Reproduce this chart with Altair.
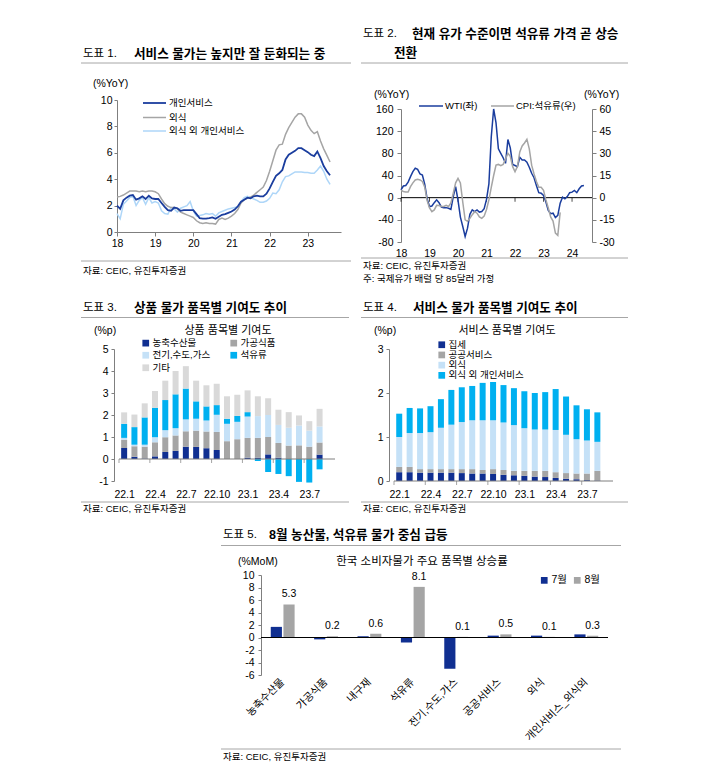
import json
import altair as alt
import pandas as pd

FONT = "Liberation Sans, Noto Sans CJK KR"
BLUE = "#1a3d9e"
NAVY = "#102f91"
GRAY = "#a5a5a5"
LGRAY = "#d9d9d9"
LBLUE = "#c5e1f7"
LINE_LBLUE = "#aed6f8"
CYAN = "#00b0f0"
RULE = "#a6a6a6"
AX = "#7f7f7f"
TITLE_SIZE = 12.6

# ---------------- data ----------------
# Panel 1: monthly YoY, 2018.1 - 2023.8
p1_series = ["개인서비스", "외식", "외식 외 개인서비스"]
p1_personal = [2.0, 1.75, 2.4, 2.6, 2.75, 2.8, 2.45, 2.55, 2.7, 2.5, 2.75, 2.55,
               2.5, 2.5, 2.2, 1.9, 1.65, 1.6, 1.85, 1.8, 1.6, 1.65, 1.65, 1.65,
               1.65, 1.35, 1.05, 1.02, 1.02, 1.05, 1.1, 1.0, 1.15, 1.3, 1.35, 1.45,
               1.55, 1.7, 1.95, 2.3, 2.45, 2.6, 2.55, 2.7, 2.75, 2.7, 2.7, 2.9,
               3.3, 3.8, 4.25, 4.45, 4.7, 5.5, 5.85, 6.0, 6.15, 6.35, 6.35, 6.2,
               6.05, 5.85, 5.75, 6.1, 5.6, 5.0, 4.6, 4.3]
p1_dining = [2.65, 2.7, 2.8, 2.95, 3.1, 3.1, 3.1, 3.05, 3.1, 3.05, 3.1, 3.1,
             3.05, 2.9, 2.5, 2.15, 1.95, 1.85, 1.85, 1.75, 1.5, 1.4, 1.3, 1.2,
             1.1, 0.85, 0.7, 0.65, 0.7, 0.65, 0.65, 0.6, 0.95, 1.05, 0.95, 1.05,
             1.2, 1.4, 1.7, 2.2, 2.45, 2.55, 2.65, 2.8, 3.0, 3.2, 3.4, 3.9,
             4.6, 5.4, 6.2, 6.6, 6.65, 7.4, 7.9, 8.3, 8.7, 8.95, 8.95, 8.7,
             8.1, 7.7, 7.45, 7.6, 6.9, 6.3, 5.8, 5.3]
p1_other = [1.4, 1.0, 2.1, 2.35, 2.6, 2.7, 2.0, 2.4, 2.6, 2.1, 2.6, 2.2,
            2.3, 2.2, 1.6, 1.4, 1.35, 1.85, 1.75, 1.5, 1.8, 1.9, 2.0, 2.3,
            1.6, 1.2, 1.25, 1.3, 1.4, 1.35, 1.4, 1.2, 1.45, 1.55, 1.65, 1.75,
            1.8, 1.85, 1.9, 2.3, 2.6, 2.7, 2.6, 2.5, 2.4, 2.25, 2.25, 2.35,
            2.55, 2.95, 2.9, 3.2, 3.8, 4.2, 4.25, 4.4, 4.55, 4.55, 4.55, 4.5,
            4.5, 4.45, 4.45, 4.7, 5.0, 4.6, 4.0, 3.6]
p1_years = [2018, 2019, 2020, 2021, 2022, 2023]

# Panel 2: WTI YoY (left) 2018.1-2024.6, CPI petroleum YoY (right) 2018.1-2023.8
p2_series = ["WTI(좌)", "CPI:석유류(우)"]
p2_wti = [14, 21, 22, 28, 38, 47, 53, 51, 43, 41, 24, -2,
          -16, -15, -9, -4, -9, -17, -18, -18, -19, -21, 2, 20,
          -5, -35, -52, -70, -55, -30, -22, -25, -22, -26, -25, -20,
          -3, 25, 110, 240, 135, 88, 80, 72, 62, 105, 90, 60,
          58, 56, 73, 68, 68, 64, 55, 44, 36, 22, 9, 8,
          4, -8, -23, -29, -28, -36, -32, -10, 1, -2, 2, 9,
          10, 13, 9, 16, 21, 22]
p2_cpi = [5, 4.2, 3.8, 3.8, 7.5, 10, 12, 12.5, 12, 11, 7, -2,
          -7, -9.5, -8.3, -5.2, -5.3, -6, -6, -5.2, -6, -3.5, 3, 10,
          13, 10, -3, -15, -16, -14, -11.5, -9.5, -10.5, -13, -14, -12.5,
          -8, -1.5, 7, 15, 22, 22.5, 21.6, 22.5, 26, 30, 28, 21,
          17.6, 21, 31, 35, 37, 39.5, 33, 22, 16, 11, 7, 7,
          5, -1.5, -7, -13, -15.8, -24, -25.5, -10]
p2_years = [2018, 2019, 2020, 2021, 2022, 2023, 2024]

# Panel 3: goods contributions (%p)
p3_months = ["22.1", "22.2", "22.3", "22.4", "22.5", "22.6", "22.7", "22.8", "22.9", "22.10",
             "22.11", "22.12", "23.1", "23.2", "23.3", "23.4", "23.5", "23.6", "23.7", "23.8"]
p3_names = ["농축수산물", "가공식품", "전기,수도,가스", "석유류", "기타"]
p3_agri = [0.5, 0.1, 0.02, 0.12, 0.32, 0.37, 0.56, 0.55, 0.49, 0.41,
           0.0, 0.0, 0.06, 0.06, 0.21, 0.06, 0.0, 0.0, 0.0, 0.2]
p3_proc = [0.37, 0.48, 0.54, 0.64, 0.67, 0.7, 0.7, 0.74, 0.76, 0.82,
           0.81, 0.9, 0.9, 0.9, 0.79, 0.67, 0.61, 0.62, 0.56, 0.55]
p3_elec = [0.09, 0.07, 0.09, 0.23, 0.32, 0.33, 0.54, 0.54, 0.5, 0.78,
           0.79, 0.79, 0.97, 0.99, 1.0, 0.82, 0.81, 0.9, 0.73, 0.73]
p3_oil = [0.64, 0.8, 1.24, 1.34, 1.37, 1.54, 1.4, 0.79, 0.64, 0.44,
          0.23, 0.27, 0.2, -0.09, -0.59, -0.68, -0.78, -1.04, -1.07, -0.47]
p3_etc = [0.52, 0.57, 0.64, 0.76, 0.88, 1.06, 1.02, 0.94, 0.96, 0.97,
          1.02, 0.96, 0.99, 0.9, 0.76, 0.69, 0.71, 0.46, 0.43, 0.8]
p3_label_idx = [0, 3, 6, 9, 12, 15, 18]

# Panel 4: services contributions (%p)
p4_names = ["집세", "공공서비스", "외식", "외식 외 개인서비스"]
p4_rent = [0.2, 0.2, 0.19, 0.19, 0.19, 0.19, 0.18, 0.17, 0.17, 0.16,
           0.14, 0.13, 0.12, 0.1, 0.09, 0.07, 0.05, 0.04, 0.02, 0.01]
p4_public = [0.12, 0.12, 0.08, 0.08, 0.08, 0.08, 0.09, 0.1, 0.08, 0.11,
             0.11, 0.1, 0.11, 0.13, 0.14, 0.13, 0.13, 0.13, 0.15, 0.22]
p4_dining = [0.68, 0.77, 0.82, 0.84, 0.94, 1.01, 1.07, 1.11, 1.13, 1.11,
             1.08, 1.04, 0.97, 0.94, 0.94, 0.96, 0.87, 0.78, 0.75, 0.66]
p4_personal = [0.53, 0.57, 0.56, 0.59, 0.65, 0.79, 0.79, 0.78, 0.85, 0.87,
               0.85, 0.84, 0.84, 0.83, 0.85, 0.93, 0.87, 0.77, 0.71, 0.67]

# Panel 5: MoM by item
p5_cats = ["농축수산물", "가공식품", "내구재", "석유류", "전기,수도,가스", "공공서비스", "외식", "개인서비스_외식외"]
p5_months = ["7월", "8월"]
p5_jul = [1.7, -0.3, 0.2, -0.8, -5.0, 0.3, 0.3, 0.5]
p5_aug = [5.3, 0.2, 0.6, 8.1, 0.1, 0.5, 0.1, 0.3]

SOURCE = "자료: CEIC, 유진투자증권"

# ---------------- helpers ----------------
ONE = alt.Data(values=[{"k": 0}])
PLAIN = "'' + datum.value"   # ASCII hyphen for negative tick labels


def T(o, x, y, s, size=10.5, weight="normal", align="left", color="#000000"):
    return alt.Chart(ONE).mark_text(align=align, baseline="middle", font=FONT, fontSize=size,
                                    fontWeight=weight, color=color).encode(
        x=alt.value(x - o[0]), y=alt.value(y - o[1]), text=alt.value(s))


def R(o, x1, x2, y, color=RULE, width=1.0):
    return alt.Chart(ONE).mark_rule(color=color, strokeWidth=width).encode(
        x=alt.value(x1 - o[0]), x2=alt.value(x2 - o[0]), y=alt.value(y - o[1]))


def frame(o, x2, y2):
    # invisible rules fixing the panel's box: origin o is the panel's top-left corner
    x1, y1 = o
    return [R(o, x1 + 0.5, x2 - 0.5, y1 + 0.5, color="#ffffff"),
            R(o, x1 + 0.5, x2 - 0.5, y2 - 0.5, color="#ffffff")]


def yaxis(values, orient="left", pad=3, tick=3, offset=0):
    return alt.Axis(values=values, orient=orient, title=None, tickSize=tick, labelPadding=pad,
                    domainColor=AX, tickColor=AX, labelFontSize=10.5, labelOverlap=False, offset=offset,
                    labelExpr=PLAIN)


# Each panel's view starts at the top-left of its box; the plot area sits inside it through
# the scale ranges, so the concat layout has nothing to align.

# ---------------- Panel 1 ----------------
O1 = (80, 20)
P1 = (116, 100, 340, 232)           # plot left, top, right, bottom (page px)
W1, H1 = P1[2] - O1[0], P1[3] - O1[1]
n1 = len(p1_personal)
p1_t = [2018 + i / 12 for i in range(n1)]
x1 = alt.X("t:Q", title=None,
           scale=alt.Scale(domain=[2018, 2023.87], range=[P1[0] - O1[0], W1], nice=False, zero=False),
           axis=alt.Axis(values=p1_years, labelExpr="format(datum.value - 2000, 'd')", title=None,
                         tickSize=4, labelPadding=2, domainColor=AX, tickColor=AX, labelFlush=False,
                         labelOverlap=False))
y1 = alt.Y("v:Q", title=None,
           scale=alt.Scale(domain=[0, 10], range=[H1, P1[1] - O1[1]], nice=False),
           axis=yaxis([0, 2, 4, 6, 8, 10], pad=2, tick=3, offset=-(P1[0] - O1[0])))

p1_layers = []
for vals, col, sw in [(p1_other, LINE_LBLUE, 1.5), (p1_dining, GRAY, 1.5), (p1_personal, BLUE, 1.8)]:
    df = pd.DataFrame({"t": p1_t, "v": vals})
    p1_layers.append(alt.Chart(df).mark_line(color=col, strokeWidth=sw).encode(x=x1, y=y1))

p1_deco = frame(O1, 355, 285) + [
    T(O1, 82, 54, "도표 1.", size=11.5),
    T(O1, 133, 54, "서비스 물가는 높지만 잘 둔화되는 중", size=TITLE_SIZE, weight="bold"),
    R(O1, 80, 350, 63),
    T(O1, 92, 84, "(%YoY)", size=10.5),
    R(O1, 142, 165, 103, color=BLUE, width=1.8), T(O1, 168, 103, p1_series[0], size=9.5),
    R(O1, 142, 165, 117.5, color=GRAY, width=1.5), T(O1, 168, 117.5, p1_series[1], size=9.5),
    R(O1, 142, 165, 131, color=LINE_LBLUE, width=1.5), T(O1, 168, 131, p1_series[2], size=9.5),
    R(O1, 80, 350, 261),
    T(O1, 82, 271, SOURCE, size=9.5),
]
p1 = alt.layer(*p1_layers, *p1_deco).properties(width=W1, height=H1)

# ---------------- Panel 2 ----------------
O2 = (355, 20)
P2 = (400, 109, 591, 242)
W2, H2 = P2[2] - O2[0], P2[3] - O2[1]
wti_df = pd.DataFrame({"t": [2018 + i / 12 for i in range(len(p2_wti))], "v": p2_wti})
cpi_df = pd.DataFrame({"t": [2018 + i / 12 for i in range(len(p2_cpi))], "v": p2_cpi})
x2 = alt.X("t:Q", title=None,
           scale=alt.Scale(domain=[2018, 2024.7], range=[P2[0] - O2[0], W2], nice=False, zero=False),
           axis=alt.Axis(values=p2_years, labelExpr="format(datum.value - 2000, 'd')", title=None,
                         domain=False, ticks=False, labelPadding=6, labelFlush=False, labelOverlap=False))
y2l = alt.Y("v:Q", title=None,
            scale=alt.Scale(domain=[-80, 160], range=[H2, P2[1] - O2[1]], nice=False, clamp=True),
            axis=yaxis([-80, -40, 0, 40, 80, 120, 160], pad=4, tick=4, offset=-(P2[0] - O2[0])))
y2r = alt.Y("v:Q", title=None,
            scale=alt.Scale(domain=[-30, 60], range=[H2, P2[1] - O2[1]], nice=False),
            axis=yaxis([-30, -15, 0, 15, 30, 45, 60], orient="right", pad=3, tick=4))

zero2_df = pd.DataFrame({"t": [2018], "t2": [2024.7], "v": [0]})
ticks2_df = pd.DataFrame({"t": p2_years, "v": [0] * len(p2_years)})
wti_line = alt.Chart(wti_df).mark_line(color=BLUE, strokeWidth=1.5).encode(x=x2, y=y2l)
zero2 = alt.Chart(zero2_df).mark_rule(color="#000000", strokeWidth=1).encode(x=x2, x2="t2:Q", y=y2l)
ticks2 = alt.Chart(ticks2_df).mark_tick(orient="vertical", size=4, yOffset=2, thickness=1,
                                        color="#000000").encode(x=x2, y=y2l)
left2 = alt.layer(zero2, ticks2, wti_line)
cpi_line = alt.Chart(cpi_df).mark_line(color=GRAY, strokeWidth=1.5).encode(x=x2, y=y2r)

p2_deco = frame(O2, 650, 285) + [
    T(O2, 362, 34, "도표 2.", size=11.5),
    T(O2, 411, 34, "현재 유가 수준이면 석유류 가격 곧 상승", size=TITLE_SIZE, weight="bold"),
    T(O2, 393, 53, "전환", size=TITLE_SIZE, weight="bold"),
    R(O2, 360, 627, 63),
    T(O2, 373, 95, "(%YoY)", size=10.5),
    T(O2, 583, 95, "(%YoY)", size=10.5),
    R(O2, 418, 442, 106, color=BLUE, width=1.5), T(O2, 444, 106, p2_series[0], size=9.5),
    R(O2, 490, 513, 106, color=GRAY, width=1.5), T(O2, 515, 106, p2_series[1], size=9.5),
    R(O2, 360, 627, 258),
    T(O2, 362, 266, SOURCE, size=9.5),
    T(O2, 362, 279, "주: 국제유가 배럴 당 85달러 가정", size=9.5),
]
p2 = alt.layer(left2, cpi_line).resolve_scale(y="independent")
p2 = alt.layer(p2, *p2_deco).properties(width=W2, height=H2)


# ---------------- stacked bar helper ----------------
def stacked(o, p, names, series, colors, ydom, yvals, legend):
    w, h = p[2] - o[0], p[3] - o[1]
    rows = []
    for k, (nm, vals) in enumerate(zip(names, series)):
        for i, v in enumerate(vals):
            rows.append({"idx": i, "comp": nm, "v": v, "ord": k})
    df = pd.DataFrame(rows)
    xs = alt.Scale(domain=[-0.5, 20.5], range=[p[0] - o[0], w], nice=False, zero=False)
    xa = alt.Axis(values=p3_label_idx, labelExpr=json.dumps(p3_months, ensure_ascii=False) + "[datum.value]",
                  title=None, domain=False, ticks=False, labelPadding=8, labelFlush=False, labelOverlap=False)
    ys = alt.Scale(domain=ydom, range=[h, p[1] - o[1]], nice=False)
    ya = yaxis(yvals, pad=3, tick=3, offset=-(p[0] - o[0]))
    xq = alt.X("idx:Q", title=None, scale=xs, axis=xa)
    ybar = alt.Y("v:Q", title=None, stack="zero", scale=ys, axis=ya)
    yplain = alt.Y("v:Q", title=None, scale=ys, axis=ya)
    bars = alt.Chart(df).mark_bar(size=6).encode(
        x=xq, y=ybar,
        color=alt.Color("comp:N", scale=alt.Scale(domain=names, range=colors), legend=legend),
        order=alt.Order("ord:Q", sort="ascending"))
    zdf = pd.DataFrame({"idx": [-0.5], "idx2": [20.5], "v": [0]})
    tdf = pd.DataFrame({"idx": [-0.5 + 3 * k for k in range(7)], "v": [0] * 7})
    zero = alt.Chart(zdf).mark_rule(color=AX, strokeWidth=1).encode(x=xq, x2="idx2:Q", y=yplain)
    tks = alt.Chart(tdf).mark_tick(orient="vertical", size=4, yOffset=2, thickness=1, color=AX).encode(
        x=xq, y=yplain)
    return [bars, zero, tks], w, h


# ---------------- Panel 3 ----------------
O3 = (80, 285)
P3 = (113, 349, 339, 481)
leg3 = alt.Legend(orient="none", legendX=60, legendY=53, columns=2, direction="horizontal",
                  symbolType="square", symbolSize=45, symbolStrokeWidth=0, labelFontSize=9.5,
                  labelFont=FONT, title=None, rowPadding=1.5, columnPadding=18, labelOffset=2, padding=0)
p3_layers, W3, H3 = stacked(O3, P3, p3_names, [p3_agri, p3_proc, p3_elec, p3_oil, p3_etc],
                            [NAVY, GRAY, LBLUE, CYAN, LGRAY], [-1, 5], [-1, 0, 1, 2, 3, 4, 5], leg3)
p3_deco = frame(O3, 355, 515) + [
    T(O3, 82, 308, "도표 3.", size=11.5),
    T(O3, 133, 308, "상품 물가 품목별 기여도 추이", size=TITLE_SIZE, weight="bold"),
    R(O3, 80, 348, 317.5),
    T(O3, 93, 331, "(%p)", size=10.5),
    T(O3, 227, 331, "상품 품목별 기여도", size=11, align="center"),
    R(O3, 80, 348, 502),
    T(O3, 82, 509, SOURCE, size=9.5),
]
p3 = alt.layer(*p3_layers, *p3_deco).properties(width=W3, height=H3)

# ---------------- Panel 4 ----------------
O4 = (355, 285)
P4 = (388, 349, 617, 481)
leg4 = alt.Legend(orient="none", legendX=81, legendY=55, columns=1, symbolType="square", symbolSize=45,
                  symbolStrokeWidth=0, labelFontSize=9.5, labelFont=FONT, title=None, rowPadding=-0.8,
                  labelOffset=2, padding=0)
p4_layers, W4, H4 = stacked(O4, P4, p4_names, [p4_rent, p4_public, p4_dining, p4_personal],
                            [NAVY, GRAY, LBLUE, CYAN], [0, 3], [0, 1, 2, 3], leg4)
p4_deco = frame(O4, 650, 515) + [
    T(O4, 362, 308, "도표 4.", size=11.5),
    T(O4, 412, 308, "서비스 물가 품목별 기여도 추이", size=TITLE_SIZE, weight="bold"),
    R(O4, 360, 627, 317.5),
    T(O4, 373, 331, "(%p)", size=10.5),
    T(O4, 506, 331, "서비스 품목별 기여도", size=11, align="center"),
    R(O4, 360, 627, 502),
    T(O4, 362, 509, SOURCE, size=9.5),
]
p4 = alt.layer(*p4_layers, *p4_deco).properties(width=W4, height=H4)

# ---------------- Panel 5 ----------------
O5 = (80, 515)
P5 = (260, 575, 607, 675)
W5, H5 = P5[2] - O5[0], P5[3] - O5[1]
p5_df = pd.DataFrame({"cat": p5_cats * 2,
                      "mon": [p5_months[0]] * len(p5_cats) + [p5_months[1]] * len(p5_cats),
                      "v": p5_jul + p5_aug})
x5 = alt.X("cat:N", title=None, sort=p5_cats,
           scale=alt.Scale(domain=p5_cats, range=[P5[0] - O5[0], W5], paddingInner=0.45, paddingOuter=0.225),
           axis=alt.Axis(labelAngle=-45, labelAlign="right", labelBaseline="middle", domain=False, ticks=False,
                         labelPadding=5, title=None, labelFontSize=10.5, labelOverlap=False))
xo5 = alt.XOffset("mon:N", scale=alt.Scale(domain=p5_months, paddingInner=0.12))
y5 = alt.Y("v:Q", title=None, scale=alt.Scale(domain=[-6, 10], range=[H5, P5[1] - O5[1]], nice=False),
           axis=yaxis([-6, -4, -2, 0, 2, 4, 6, 8, 10], pad=4, tick=3, offset=-(P5[0] - O5[0])))
bars5 = alt.Chart(p5_df).mark_bar().encode(
    x=x5, xOffset=xo5, y=y5,
    color=alt.Color("mon:N", scale=alt.Scale(domain=p5_months, range=[NAVY, GRAY]),
                    legend=alt.Legend(orient="none", legendX=458, legendY=60, direction="horizontal",
                                      symbolType="square", symbolSize=45, symbolStrokeWidth=0,
                                      labelFontSize=10.5, labelFont=FONT, title=None, columnPadding=5,
                                      labelOffset=2, padding=0)))
labels5 = alt.Chart(p5_df).transform_filter(alt.datum.mon == p5_months[1]).mark_text(
    baseline="bottom", dy=-5, font=FONT, fontSize=10.5, color="#000000").encode(
    x=x5, xOffset=xo5, y=y5, text=alt.Text("v:Q", format=".1f"))
zero5 = alt.Chart(pd.DataFrame({"v": [0]})).mark_rule(color="#000000", strokeWidth=1).encode(
    x=alt.value(P5[0] - O5[0]), x2=alt.value(W5), y=y5)
p5_deco = frame(O5, 650, 765) + [
    T(O5, 222, 535, "도표 5.", size=11.5),
    T(O5, 268, 535, "8월 농산물, 석유류 물가 중심 급등", size=TITLE_SIZE, weight="bold"),
    R(O5, 220, 620, 545.5),
    T(O5, 237, 562, "(%MoM)", size=10.5),
    T(O5, 421, 562, "한국 소비자물가 주요 품목별 상승률", size=11.5, align="center"),
    R(O5, 220, 620, 749),
    T(O5, 222, 757, SOURCE, size=9.5),
]
p5 = alt.layer(bars5, zero5, labels5, *p5_deco).properties(width=W5, height=H5)

# ---------------- compose ----------------
row1 = alt.hconcat(p1, p2, spacing=0).resolve_scale(color="independent")
row2 = alt.hconcat(p3, p4, spacing=0).resolve_scale(color="independent")
chart = alt.vconcat(row1, row2, p5, spacing=0).resolve_scale(color="independent").properties(
    padding={"left": 72, "top": 12, "right": 0, "bottom": 0}
).configure_view(strokeWidth=0).configure_axis(
    grid=False, labelFont=FONT, labelFontSize=10.5, labelColor="#000000",
    domainColor=AX, tickColor=AX, labelOverlap=False
)

chart.save("out.html", embed_options={"renderer": "svg", "actions": False})
